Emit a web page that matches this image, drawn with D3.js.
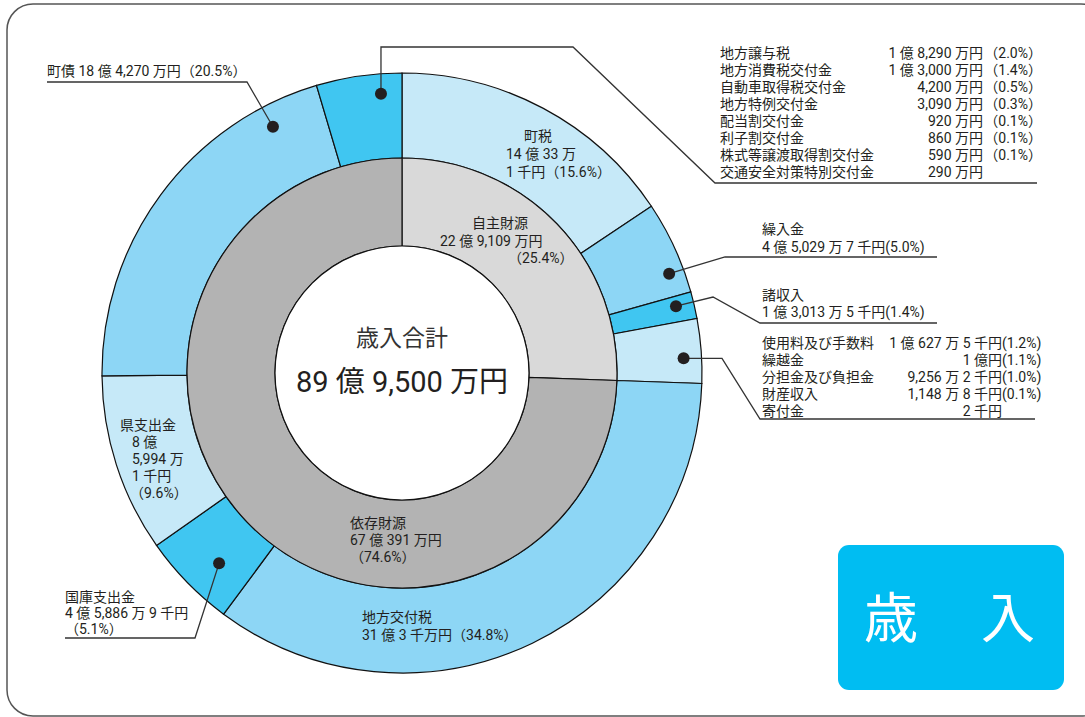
<!DOCTYPE html>
<html>
<head>
<meta charset="utf-8">
<script src="https://cdn.jsdelivr.net/npm/d3@7"></script>
<style>
  body { margin: 0; background: #fff; }
  svg { font-family: Roboto, "Noto Sans CJK JP", sans-serif; }
  .lbl { font-size: 14px; fill: #231f20; }
</style>
</head>
<body>
<div id="chart"></div>
<script>
// 歳入 amounts, in 万円
const outerNames = ["町税", "繰入金", "諸収入", "その他自主財源", "地方交付税", "国庫支出金", "県支出金", "町債", "その他依存財源"];
const outerValues = [140033.1, 45029.7, 13013.5, 31032.7, 310000.3, 45886.9, 85994.1, 184270, 41240];
const outerShade = ["light", "mid", "bright", "light", "mid", "bright", "light", "mid", "bright"];

const innerNames = ["自主財源", "依存財源"];
const innerValues = [229109.0, 667391.3];

// small items listed at the right
const depMinorNames = ["地方譲与税", "地方消費税交付金", "自動車取得税交付金", "地方特例交付金", "配当割交付金", "利子割交付金", "株式等譲渡取得割交付金", "交通安全対策特別交付金"];
const depMinorAmounts = ["1 億 8,290 万円", "1 億 3,000 万円", "4,200 万円", "3,090 万円", "920 万円", "860 万円", "590 万円", "290 万円"];
const depMinorPcts = ["（2.0%）", "（1.4%）", "（0.5%）", "（0.3%）", "（0.1%）", "（0.1%）", "（0.1%）", ""];

const ownMinorNames = ["使用料及び手数料", "繰越金", "分担金及び負担金", "財産収入", "寄付金"];
const ownMinorAmounts = ["1 億 627 万 5 千円", "1 億円", "9,256 万 2 千円", "1,148 万 8 千円", "2 千円"];
const ownMinorPcts = ["(1.2%)", "(1.1%)", "(1.0%)", "(0.1%)", ""];

const totalTitle = "歳入合計";
const totalText = "89 億 9,500 万円";

const width = 1085, height = 717;
const cx = 402, cy = 373;
const rOuter = 300, rMid = 215, rHole = 127;

const svg = d3.select("#chart").append("svg")
    .attr("width", width)
    .attr("height", height);

// frame
svg.append("rect")
    .attr("x", 7).attr("y", 4)
    .attr("width", 1100).attr("height", 712)
    .attr("rx", 26)
    .attr("fill", "#fff")
    .attr("stroke", "#555")
    .attr("stroke-width", 1.5);

const shadeColor = d3.scaleOrdinal()
    .domain(["light", "mid", "bright"])
    .range(["#c6e9f8", "#8dd6f5", "#40c6f1"]);
const innerColor = d3.scaleOrdinal().domain(innerNames).range(["#d9d9d9", "#b3b3b3"]);

const pie = d3.pie().sort(null).value(d => d.value);
const outerData = pie(outerNames.map((n, i) => ({ name: n, value: outerValues[i], shade: outerShade[i] })));
const innerData = pie(innerNames.map((n, i) => ({ name: n, value: innerValues[i] })));

const g = svg.append("g").attr("transform", "translate(" + cx + "," + cy + ")");

const outerArc = d3.arc().innerRadius(rMid).outerRadius(rOuter);
const innerArc = d3.arc().innerRadius(rHole).outerRadius(rMid);

g.selectAll(".outer").data(outerData).enter().append("path")
    .attr("class", "outer")
    .attr("d", outerArc)
    .attr("fill", d => shadeColor(d.data.shade))
    .attr("stroke", "#111")
    .attr("stroke-width", 1.2);

g.selectAll(".inner").data(innerData).enter().append("path")
    .attr("class", "inner")
    .attr("d", innerArc)
    .attr("fill", d => innerColor(d.data.name))
    .attr("stroke", "#111")
    .attr("stroke-width", 1.2);

g.append("circle").attr("r", rHole).attr("fill", "#fff").attr("stroke", "#111").attr("stroke-width", 1.2);

g.append("text").attr("text-anchor", "middle").attr("y", -27)
    .style("font-size", "23px").attr("fill", "#333").text(totalTitle);
g.append("text").attr("text-anchor", "middle").attr("y", 19)
    .style("font-size", "29px").attr("fill", "#231f20").text(totalText);

// leader dots: position inside a segment (fraction of its angle, radius)
function dotAt(name, t, r) {
    const d = outerData.find(a => a.data.name === name);
    const ang = d.startAngle + (d.endAngle - d.startAngle) * t;
    const p = d3.pointRadial(ang, r);
    return [cx + p[0], cy + p[1]];
}

const leaders = [
    { name: "町債", t: 0.85, r: 278, path: p => [p, [247, 82], [47, 82]] },
    { name: "その他依存財源", t: 0.74, r: 280, path: p => [p, [p[0], 47], [573, 47], [715, 183], [1037, 183]] },
    { name: "繰入金", t: 0.74, r: 285, path: p => [p, [725, 257], [937, 257]] },
    { name: "諸収入", t: 0.38, r: 282, path: p => [p, [713, 297], [760, 323], [937, 323]] },
    { name: "その他自主財源", t: 0.6, r: 282, path: p => [p, [722, p[1]], [760, 419], [1035, 419]] },
    { name: "国庫支出金", t: 0.4, r: 264, path: p => [p, [195, 638], [65, 638]] }
];

const line = d3.line();
leaders.forEach(l => {
    const p = dotAt(l.name, l.t, l.r);
    svg.append("path")
        .attr("d", line(l.path(p)))
        .attr("fill", "none")
        .attr("stroke", "#333")
        .attr("stroke-width", 1.3);
    svg.append("circle").attr("cx", p[0]).attr("cy", p[1]).attr("r", 6).attr("fill", "#231f20");
});

// one text element per block, one tspan per line; x may be a number or one per line
function block(x, y0, step, arr, anchor) {
    const t = svg.append("text").attr("class", "lbl")
        .attr("text-anchor", anchor || "start");
    arr.forEach((s, i) => {
        t.append("tspan")
            .attr("x", Array.isArray(x) ? x[i] : x)
            .attr("y", y0 + i * step)
            .text(s);
    });
}

// labels in and around the ring
block(47, 76, 0, ["町債 18 億 4,270 万円（20.5%）"]);
block([524, 506, 506], 141, 18, ["町税", "14 億 33 万", "1 千円（15.6%）"]);
block([472, 440, 508], 228, [0], ["自主財源"]);
block([440, 508], 246, 17, ["22 億 9,109 万円", "（25.4%）"]);
block(762, 234, 18, ["繰入金", "4 億 5,029 万 7 千円(5.0%)"]);
block(762, 300, 17, ["諸収入", "1 億 3,013 万 5 千円(1.4%)"]);
block([120, 132, 132, 132, 130], 430, 17, ["県支出金", "8 億", "5,994 万", "1 千円", "（9.6%）"]);
block(65, 602, 16, ["国庫支出金", "4 億 5,886 万 9 千円", "（5.1%）"]);
block(350, 528, 17, ["依存財源", "67 億 391 万円", "（74.6%）"]);
block(362, 622, 18, ["地方交付税", "31 億 3 千万円（34.8%）"]);

// right-hand lists
block(720, 58, 17, depMinorNames);
block(983, 58, 17, depMinorAmounts, "end");
block(1042, 58, 17, depMinorPcts, "end");

block(762, 348, 17, ownMinorNames);
block(1002, 348, 17, ownMinorAmounts, "end");
block(1002, 348, 17, ownMinorPcts);

// 歳入 badge
svg.append("rect")
    .attr("x", 838).attr("y", 545)
    .attr("width", 226).attr("height", 145)
    .attr("rx", 11)
    .attr("fill", "#00bdf2");
svg.append("text").attr("x", 891).attr("y", 638).attr("text-anchor", "middle")
    .style("font-size", "54px").attr("fill", "#fff").text("歳");
svg.append("text").attr("x", 1008).attr("y", 638).attr("text-anchor", "middle")
    .style("font-size", "54px").attr("fill", "#fff").text("入");
</script>
</body>
</html>
